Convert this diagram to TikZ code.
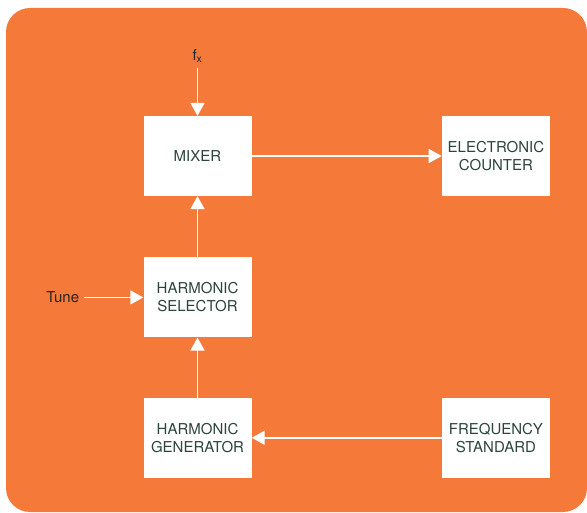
\documentclass[tikz,border=0pt]{standalone}
\usepackage{fontspec}
\setmainfont{TeX Gyre Heros}
\usetikzlibrary{positioning,arrows.meta}
\definecolor{panel}{RGB}{245,122,58}
\definecolor{boxtext}{RGB}{45,68,62}

\begin{document}
\begin{tikzpicture}[x=1pt,y=1pt,
  every node/.style={font=\fontsize{15}{18}\selectfont},
  blk/.style ={fill=white, minimum width=108pt, minimum height=80pt,
               inner sep=0pt, align=center, text=boxtext},
  lbl/.style ={inner sep=1pt, text=black!85},
  arr/.style ={-{Triangle[length=13pt,width=14pt]}, draw=white,
               fill=white, line width=1.5pt},
  node distance=60pt and 190pt
]
\useasboundingbox (0,0) rectangle (587,512);
\fill[panel, rounded corners=24pt] (6,0) rectangle (587,504);

\node[blk] (mixer) at (197.5,356) {MIXER};
\node[blk, right=190pt of mixer] (counter) {ELECTRONIC\\COUNTER};
\node[blk, below=61pt of mixer] (selector) {HARMONIC\\SELECTOR};
\node[blk, below=of selector] (generator) {HARMONIC\\GENERATOR};
\node[blk, right=of generator] (standard) {FREQUENCY\\STANDARD};

\node[lbl, above=52pt of mixer] (fx) {f\textsubscript{x}};
\node[lbl, left=63pt of selector] (tune) {Tune};

\draw[arr, shorten <=4pt] (fx) -- (mixer);
\draw[arr, shorten <=4pt] (tune) -- (selector);
\draw[arr] (mixer) -- (counter);
\draw[arr] (selector) -- (mixer);
\draw[arr] (generator) -- (selector);
\draw[arr] (standard) -- (generator);

\end{tikzpicture}
\end{document}
